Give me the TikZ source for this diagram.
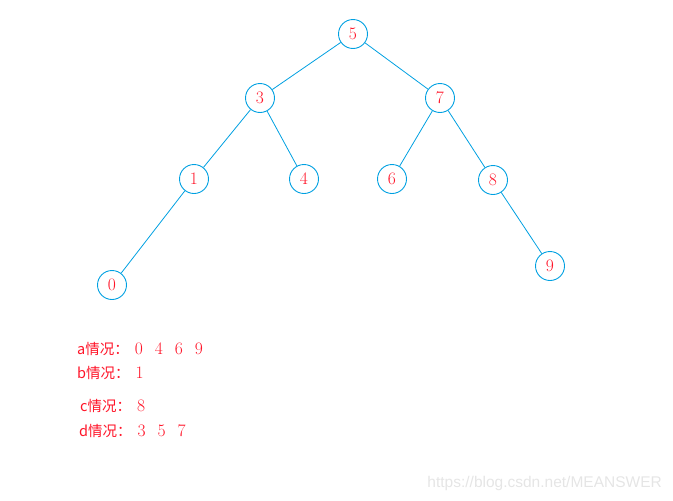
\documentclass[tikz,border=0pt]{standalone}
\usepackage{fontspec}
\newfontfamily\cjk{Noto Sans CJK SC}
\newfontfamily\wmfont{Liberation Sans}
\definecolor{edgeblue}{RGB}{0,160,225}
\definecolor{txtred}{RGB}{255,20,40}
\newcommand{\dg}[1]{{\rmfamily\fontsize{17.5}{17.5}\selectfont #1}}
\newcommand{\gp}{\hspace{12pt}}
\begin{document}
\begin{tikzpicture}[x=1pt,y=-1pt,
  tn/.style={circle,draw=edgeblue,line width=0.9pt,minimum size=29pt,inner sep=0pt,text=txtred,font=\fontsize{17.5}{17.5}\selectfont},
  edge/.style={draw=edgeblue,line width=0.8pt},
  lab/.style={anchor=west,text=txtred,inner sep=0pt,font=\cjk\fontsize{14.5}{14.5}\selectfont}]
\useasboundingbox (0,0) rectangle (673,501);
\node[tn] (n5) at (353,34) {5};
\node[tn] (n3) at (260,98) {3};
\node[tn] (n7) at (440,98) {7};
\node[tn] (n1) at (194,179) {1};
\node[tn] (n4) at (304,179) {4};
\node[tn] (n6) at (392,179) {6};
\node[tn] (n8) at (493,180) {8};
\node[tn] (n0) at (112,285) {0};
\node[tn] (n9) at (550,266) {9};
\draw[edge] (n5) -- (n3);
\draw[edge] (n5) -- (n7);
\draw[edge] (n3) -- (n1);
\draw[edge] (n3) -- (n4);
\draw[edge] (n7) -- (n6);
\draw[edge] (n7) -- (n8);
\draw[edge] (n1) -- (n0);
\draw[edge] (n8) -- (n9);
\node[lab] (la) at (77,349) {a情况：\hspace{6pt}\dg{0}\gp\dg{4}\gp\dg{6}\gp\dg{9}};
\node[lab] (lb) at (77,373) {b情况：\hspace{6pt}\dg{1}};
\node[lab] (lc) at (80,406) {c情况：\hspace{6pt}\dg{8}};
\node[lab] (ld) at (79,431) {d情况：\hspace{6pt}\dg{3}\gp\dg{5}\gp\dg{7}};
\node[anchor=east,text=black!10,inner sep=0pt,font=\wmfont\fontsize{15.5}{15.5}\selectfont] (wm) at (662,483) {https://blog.csdn.net/MEANSWER};
\end{tikzpicture}
\end{document}
